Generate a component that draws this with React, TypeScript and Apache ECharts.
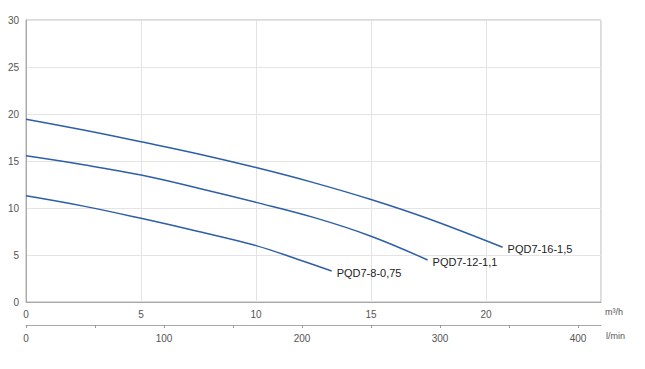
import React, { useEffect, useRef } from "react";
import * as echarts from "echarts";

const seriesNames = ["PQD7-16-1,5", "PQD7-12-1,1", "PQD7-8-0,75"];
const flow16 = [0, 2.5, 5, 7.5, 10, 12.5, 15, 17.5, 20.72];
const head16 = [19.45, 18.3, 17.05, 15.75, 14.3, 12.7, 10.9, 8.85, 5.82];
const flow12 = [0, 2.5, 5, 7.5, 10, 12.5, 15, 17.46];
const head12 = [15.55, 14.6, 13.5, 12.1, 10.6, 9.0, 7.0, 4.47];
const flow8 = [0, 2.5, 5, 7.5, 10, 11.9, 13.29];
const head8 = [11.3, 10.2, 8.9, 7.5, 6.0, 4.47, 3.3];
const yTicks = [0, 5, 10, 15, 20, 25, 30];
const m3hMax = 25;
const lminMax = (25 * 1000) / 60;

const pairs = (xs: number[], ys: number[]) => xs.map((x, i) => [x, ys[i]]);

export default function App() {
  const ref = useRef<HTMLDivElement>(null);
  useEffect(() => {
    document.body.style.margin = "0";
    const chart = echarts.init(ref.current!, null, { renderer: "svg" });
    const font = "Liberation Sans, Arial, sans-serif";
    const lineColor = "#2d5fa8";
    const mk = (name: string, data: number[][]) => ({
      name,
      type: "line",
      xAxisIndex: 0,
      yAxisIndex: 0,
      data,
      smooth: 0.4,
      showSymbol: false,
      lineStyle: { color: lineColor, width: 1.5 },
      endLabel: {
        show: true,
        formatter: name,
        distance: 5,
        offset: [0, 2],
        color: "#222",
        fontSize: 11,
        fontFamily: font,
      },
    });
    chart.setOption({
      animation: false,
      grid: {
        left: 26,
        right: 44,
        top: 20,
        bottom: 67,
        show: true,
        borderColor: "#b5b5b5",
        borderWidth: 1,
      },
      xAxis: [
        {
          type: "value",
          min: 0,
          max: m3hMax,
          interval: 5,
          position: "bottom",
          axisLine: { show: true, lineStyle: { color: "#a8a8a8" } },
          axisTick: { show: false },
          axisLabel: {
            color: "#555",
            fontSize: 10,
            margin: 7,
            fontFamily: font,
            showMaxLabel: false,
          },
          splitLine: { show: true, lineStyle: { color: "#e4e4e4" } },
        },
        {
          type: "value",
          min: 0,
          max: lminMax,
          interval: 50,
          position: "bottom",
          offset: 23,
          axisLine: { show: true, onZero: false, lineStyle: { color: "#a8a8a8" } },
          axisTick: { show: true, length: 3, lineStyle: { color: "#999" } },
          axisLabel: {
            color: "#555",
            fontSize: 10,
            margin: 8,
            fontFamily: font,
            showMaxLabel: false,
            formatter: (v: number) => (v % 100 === 0 ? String(v) : ""),
          },
          splitLine: { show: false },
        },
      ],
      yAxis: {
        type: "value",
        min: yTicks[0],
        max: yTicks[yTicks.length - 1],
        interval: 5,
        axisLine: { show: true, lineStyle: { color: "#a8a8a8" } },
        axisTick: { show: false },
        axisLabel: { color: "#555", fontSize: 10, margin: 7, fontFamily: font },
        splitLine: { show: true, lineStyle: { color: "#e4e4e4" } },
      },
      graphic: [
        {
          type: "text",
          left: 605,
          top: 307,
          style: { text: "m³/h", fill: "#555", fontSize: 9, fontFamily: font },
        },
        {
          type: "text",
          left: 606,
          top: 331,
          style: { text: "l/min", fill: "#555", fontSize: 9, fontFamily: font },
        },
      ],
      series: [
        mk(seriesNames[0], pairs(flow16, head16)),
        mk(seriesNames[1], pairs(flow12, head12)),
        mk(seriesNames[2], pairs(flow8, head8)),
      ],
    });
    return () => chart.dispose();
  }, []);
  return <div ref={ref} style={{ width: 645, height: 369 }} />;
}
